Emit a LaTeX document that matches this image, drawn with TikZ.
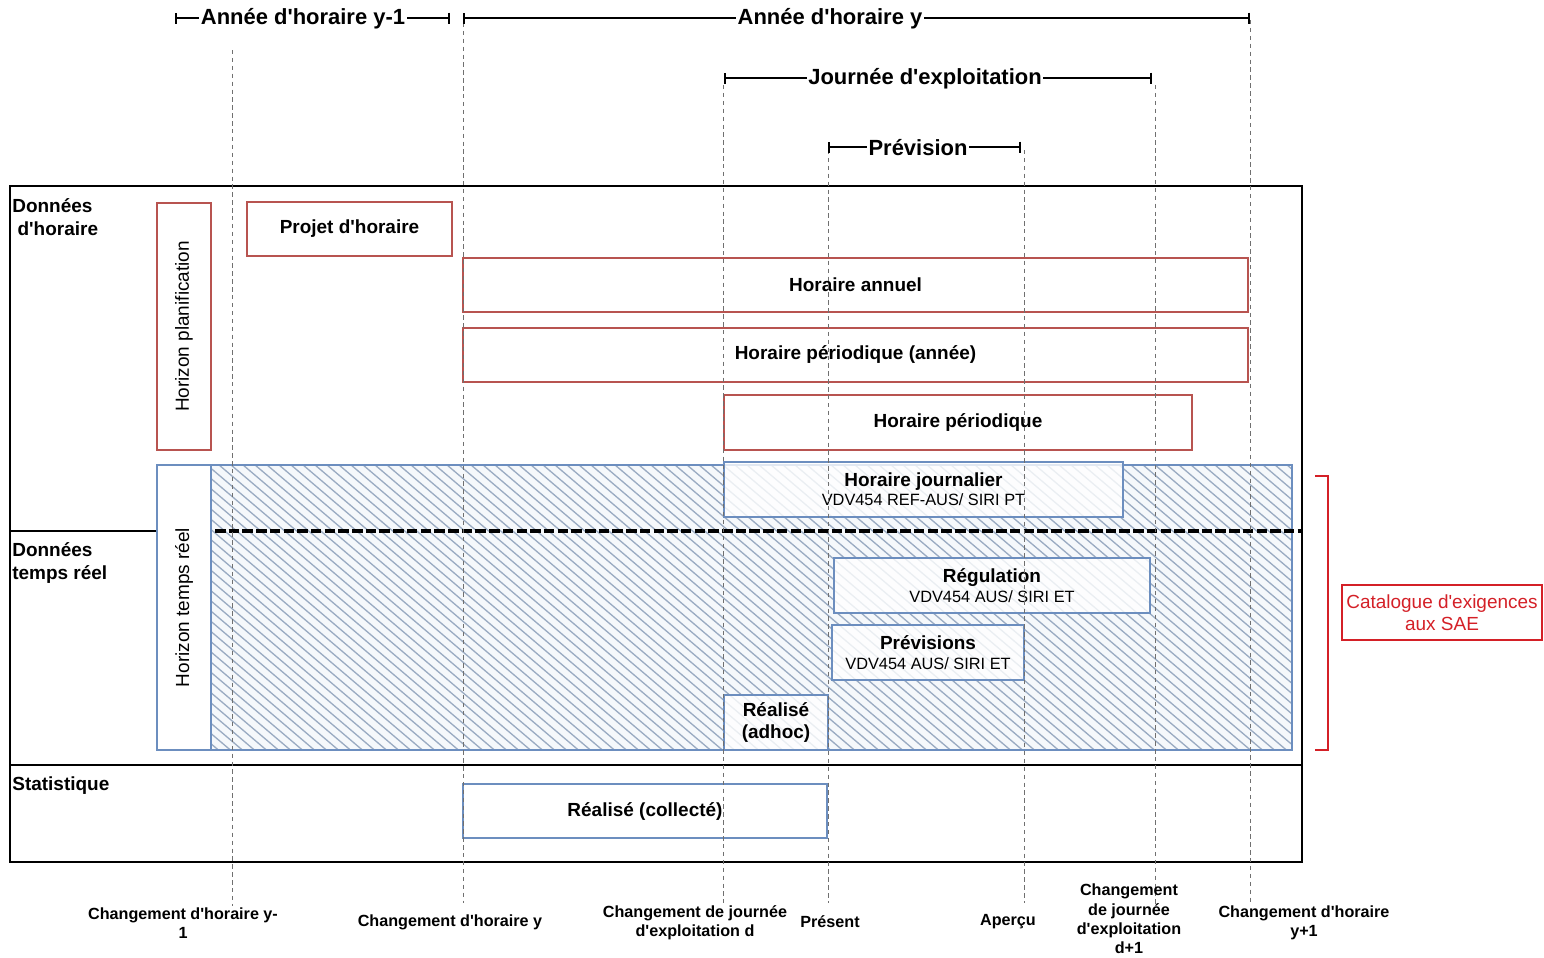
\documentclass[tikz,border=0pt]{standalone}
\usepackage{fontspec}
\setmainfont{Liberation Sans}[Ligatures=TeXOff]
\usetikzlibrary{arrows.meta}

\definecolor{planred}{HTML}{B85450}
\definecolor{rtblue}{HTML}{6C8EBF}
\definecolor{hatchblue}{HTML}{9AABC2}
\definecolor{hatchbg}{HTML}{F5F8FB}
\definecolor{catred}{HTML}{D42027}
\definecolor{guidegray}{HTML}{707070}

\tikzset{
  toplbl/.style={font=\fontsize{12.5}{14}\selectfont\bfseries, fill=white, inner sep=1pt},
  sidelbl/.style={font=\fontsize{10.8}{13}\selectfont\bfseries, align=left, anchor=north west, inner sep=0pt},
  botlbl/.style={font=\fontsize{9.2}{11}\selectfont\bfseries, align=center, inner sep=0pt},
  span/.style={line width=1.1pt, {Bar[width=0.22cm]}-{Bar[width=0.22cm]}},
  planbox/.style={draw=planred, line width=1.3pt, fill=white, font=\fontsize{10.8}{13}\selectfont\bfseries, align=center, inner sep=0pt},
  rtbox/.style={draw=rtblue, line width=1.1pt, fill=white, fill opacity=0.8, text opacity=1, align=center, inner sep=0pt},
  rtframe/.style={draw=rtblue, line width=1.1pt, inner sep=0pt},
  hatched/.style={fill=hatchbg, path picture={
      \foreach \k in {-340,-328,...,1090}{
        \draw[hatchblue, line width=0.75pt]
          ([xshift=\k*0.02cm]path picture bounding box.north west) -- ++(7cm,-5.95cm);
      }}},
  guide/.style={guidegray, line width=0.5pt, dash pattern=on 2.5pt off 2pt},
  frameline/.style={black, line width=1.4pt},
}

\begin{document}
\begin{tikzpicture}[x=0.02cm, y=-0.02cm]
\useasboundingbox (0,0) rectangle (1544,957);

% ---- main frame and band separators ----
\draw[frameline] (10,186) rectangle (1302,862);
\coordinate (sepL) at (10,531);
\coordinate (sepM) at (157,531);
\draw[frameline] (sepL) -- (sepM);
\draw[frameline] (10,765) -- (1302,765);

\node[sidelbl] (lbl-horaire) at (12,198) {Données\\\hspace*{3pt}d'horaire};
\node[sidelbl] (lbl-tr) at (12,542) {Données\\temps réel};
\node[sidelbl] (lbl-stat) at (12,776) {Statistique};

% ---- planning horizon (red) ----
\node[planbox, rotate=90, minimum width=4.94cm, minimum height=1.08cm,
      font=\fontsize{10.8}{13}\selectfont] (hplan) at (184,326.5) {Horizon planification};
\node[planbox, minimum width=4.1cm, minimum height=1.08cm] (projet) at (349.5,229) {Projet d'horaire};
\node[planbox, minimum width=15.7cm, minimum height=1.08cm] (annuel) at (855.5,285) {Horaire annuel};
\node[planbox, minimum width=15.7cm, minimum height=1.08cm] (perannee) at (855.5,355) {Horaire périodique (année)};
\node[planbox, minimum width=9.36cm, minimum height=1.1cm] (periodique) at (958,422.5) {Horaire périodique};

% ---- real-time horizon (blue, hatched) ----
\node[rtframe, fill=white, rotate=90, minimum width=5.7cm, minimum height=1.08cm,
      font=\fontsize{10.8}{13}\selectfont] (htr) at (184,607.5) {Horizon temps réel};
\node[rtframe, hatched, minimum width=21.62cm, minimum height=5.7cm] (rtzone) at (751.5,607.5) {};

\coordinate (sepR1) at (215,531);
\coordinate (sepR2) at (1302,531);
\draw[black, line width=2.2pt, dash pattern=on 6pt off 1.8pt] (sepR1) -- (sepR2);

\node[rtbox, minimum width=7.98cm, minimum height=1.1cm] (journalier) at (923.5,489.5)
  {{\fontsize{10.8}{13}\selectfont\bfseries Horaire journalier}\\[-1pt]{\fontsize{9.3}{11}\selectfont VDV454 REF-AUS/ SIRI PT}};
\node[rtbox, minimum width=6.32cm, minimum height=1.1cm] (regulation) at (992,585.5)
  {{\fontsize{10.8}{13}\selectfont\bfseries Régulation}\\[-1pt]{\fontsize{9.3}{11}\selectfont VDV454 AUS/ SIRI ET}};
\node[rtbox, minimum width=3.84cm, minimum height=1.1cm] (previsions) at (928,652.5)
  {{\fontsize{10.8}{13}\selectfont\bfseries Prévisions}\\[-1pt]{\fontsize{9.3}{11}\selectfont VDV454 AUS/ SIRI ET}};
\node[rtbox, minimum width=2.08cm, minimum height=1.1cm,
      font=\fontsize{10.8}{13}\selectfont\bfseries] (adhoc) at (776,722.5) {Réalisé\\(adhoc)};

% ---- statistics ----
\node[rtbox, fill opacity=1, minimum width=7.28cm, minimum height=1.08cm,
      font=\fontsize{10.8}{13}\selectfont\bfseries] (collecte) at (645,811) {Réalisé (collecté)};

% ---- requirements catalogue ----
\coordinate (brT) at (1315,476);
\coordinate (brTR) at (1328,476);
\coordinate (brBR) at (1328,750);
\coordinate (brB) at (1315,750);
\draw[catred, line width=1.2pt] (brT) -- (brTR) -- (brBR) -- (brB);
\node[draw=catred, line width=1.3pt, text=catred, align=center, inner sep=0pt,
      minimum width=4.0cm, minimum height=1.1cm,
      font=\fontsize{10.8}{12.5}\selectfont] (catalogue) at (1442,612.5) {Catalogue d'exigences\\aux SAE};

% ---- time guides ----
\foreach \name/\x/\top/\bot in {gA/232/50/906, gB/463/15/903, gC/723/85/903, gD/828/150/903,
                                 gE/1024/150/903, gF/1155/85/906, gG/1250/20/905}{
  \coordinate (\name-top) at (\x,\top);
  \coordinate (\name-bot) at (\x,\bot);
  \draw[guide] (\name-top) -- (\name-bot);
}

% ---- period spans ----
\coordinate (s1a) at (175,18);  \coordinate (s1b) at (450,18);
\coordinate (s2a) at (463,18);  \coordinate (s2b) at (1250,18);
\coordinate (s3a) at (724,78);  \coordinate (s3b) at (1152,78);
\coordinate (s4a) at (828,147); \coordinate (s4b) at (1021,147);
\draw[span] (s1a) -- (s1b);
\draw[span] (s2a) -- (s2b);
\draw[span] (s3a) -- (s3b);
\draw[span] (s4a) -- (s4b);
\node[toplbl] (t1) at (303,19) {Année d'horaire y-1};
\node[toplbl] (t2) at (830,19) {Année d'horaire y};
\node[toplbl] (t3) at (925,79) {Journée d'exploitation};
\node[toplbl] (t4) at (918,148) {Prévision};

% ---- milestone labels ----
\node[botlbl] (m1) at (183,923) {Changement d'horaire y-\\1};
\node[botlbl] (m2) at (450,922) {Changement d'horaire y};
\node[botlbl] (m3) at (695,923) {Changement de journée\\d'exploitation d};
\node[botlbl] (m4) at (830,922) {Présent};
\node[botlbl] (m5) at (1008,922) {Aperçu};
\node[botlbl] (m6) at (1129,919) {Changement\\de journée\\d'exploitation\\d+1};
\node[botlbl] (m7) at (1304,923) {Changement d'horaire\\y+1};
\end{tikzpicture}
\end{document}
